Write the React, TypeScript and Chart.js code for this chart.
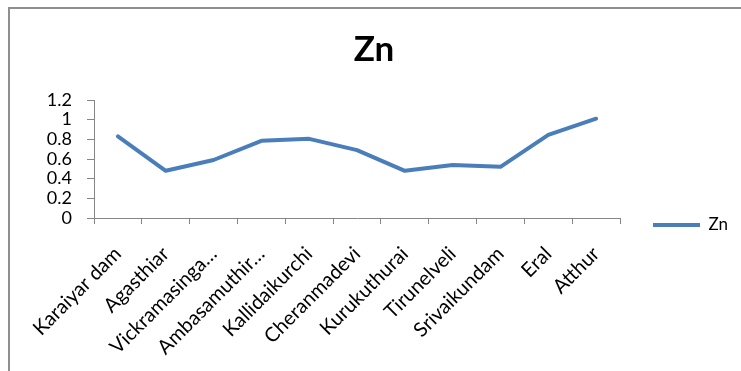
import React, { useEffect, useRef } from "react";
import { Chart, registerables } from "chart.js";

Chart.register(...registerables);

const categories = [
  "Karaiyar dam",
  "Agasthiar",
  "Vickramasinga…",
  "Ambasamuthir…",
  "Kallidaikurchi",
  "Cheranmadevi",
  "Kurukuthurai",
  "Tirunelveli",
  "Srivaikundam",
  "Eral",
  "Atthur",
];
const znValues = [0.83, 0.48, 0.59, 0.785, 0.805, 0.69, 0.48, 0.54, 0.52, 0.845, 1.01];
const yTickLabels = ["0", "0.2", "0.4", "0.6", "0.8", "1", "1.2"];
const seriesName = "Zn";
const chartTitle = "Zn";

const AXIS_GRAY = "#868686";
const LINE_BLUE = "#4A7EBB";
const FONT = "Lato, 'Noto Sans', sans-serif";

export default function App() {
  const ref = useRef<HTMLCanvasElement | null>(null);

  useEffect(() => {
    document.body.style.overflow = "hidden";
    const canvas = ref.current;
    if (!canvas) return;
    const chart = new Chart(canvas, {
      type: "line",
      data: {
        labels: categories,
        datasets: [
          {
            label: seriesName,
            data: znValues,
            borderColor: LINE_BLUE,
            backgroundColor: LINE_BLUE,
            borderWidth: 4,
            pointRadius: 0,
            pointHoverRadius: 0,
            tension: 0,
            borderJoinStyle: "round",
            borderCapStyle: "round",
            pointStyle: "line",
          },
        ],
      },
      options: {
        animation: false,
        responsive: false,
        devicePixelRatio: 1,
        layout: { padding: { left: 0, right: 3, top: 0, bottom: 0 } },
        plugins: {
          tooltip: { enabled: false },
          title: {
            display: true,
            text: chartTitle,
            color: "#000",
            font: { family: FONT, size: 35, weight: "bold" },
            padding: { top: 20, bottom: 29 },
          },
          legend: {
            display: true,
            position: "right",
            align: "center",
            title: {
              display: true,
              text: " ",
              font: { size: 10 },
              padding: { top: 58, bottom: 0 },
            },
            labels: {
              usePointStyle: true,
              pointStyleWidth: 47,
              padding: 33,
              color: "#000",
              font: { family: FONT, size: 17 },
            },
          },
        },
        scales: {
          x: {
            type: "category",
            offset: true,
            afterFit: (scale: any) => {
              scale.height = 153;
            },
            grid: {
              offset: true,
              drawOnChartArea: false,
              drawTicks: true,
              tickLength: 6,
              color: AXIS_GRAY,
            },
            border: { display: true, color: AXIS_GRAY, width: 1 },
            ticks: {
              autoSkip: false,
              minRotation: 45,
              maxRotation: 45,
              padding: 18,
              color: "#000",
              font: { family: FONT, size: 20 },
            },
          },
          y: {
            min: 0,
            max: 1.2,
            afterFit: (scale: any) => {
              scale.width = 84;
            },
            grid: {
              drawOnChartArea: false,
              drawTicks: true,
              tickLength: 7,
              color: AXIS_GRAY,
            },
            border: { display: true, color: AXIS_GRAY, width: 1 },
            ticks: {
              autoSkip: false,
              stepSize: 0.2,
              padding: 15,
              color: "#000",
              font: { family: FONT, size: 18 },
              callback: (_v: any, i: number) => yTickLabels[i],
            },
          },
        },
      },
    });
    return () => chart.destroy();
  }, []);

  return (
    <div
      style={{
        position: "absolute",
        left: 8,
        top: 7,
        width: 731,
        height: 362,
        borderLeft: "2px solid #8f8f8f",
        borderTop: "2px solid #8f8f8f",
        overflow: "hidden",
      }}
    >
      <canvas ref={ref} width={731} height={362} style={{ display: "block" }} />
    </div>
  );
}
